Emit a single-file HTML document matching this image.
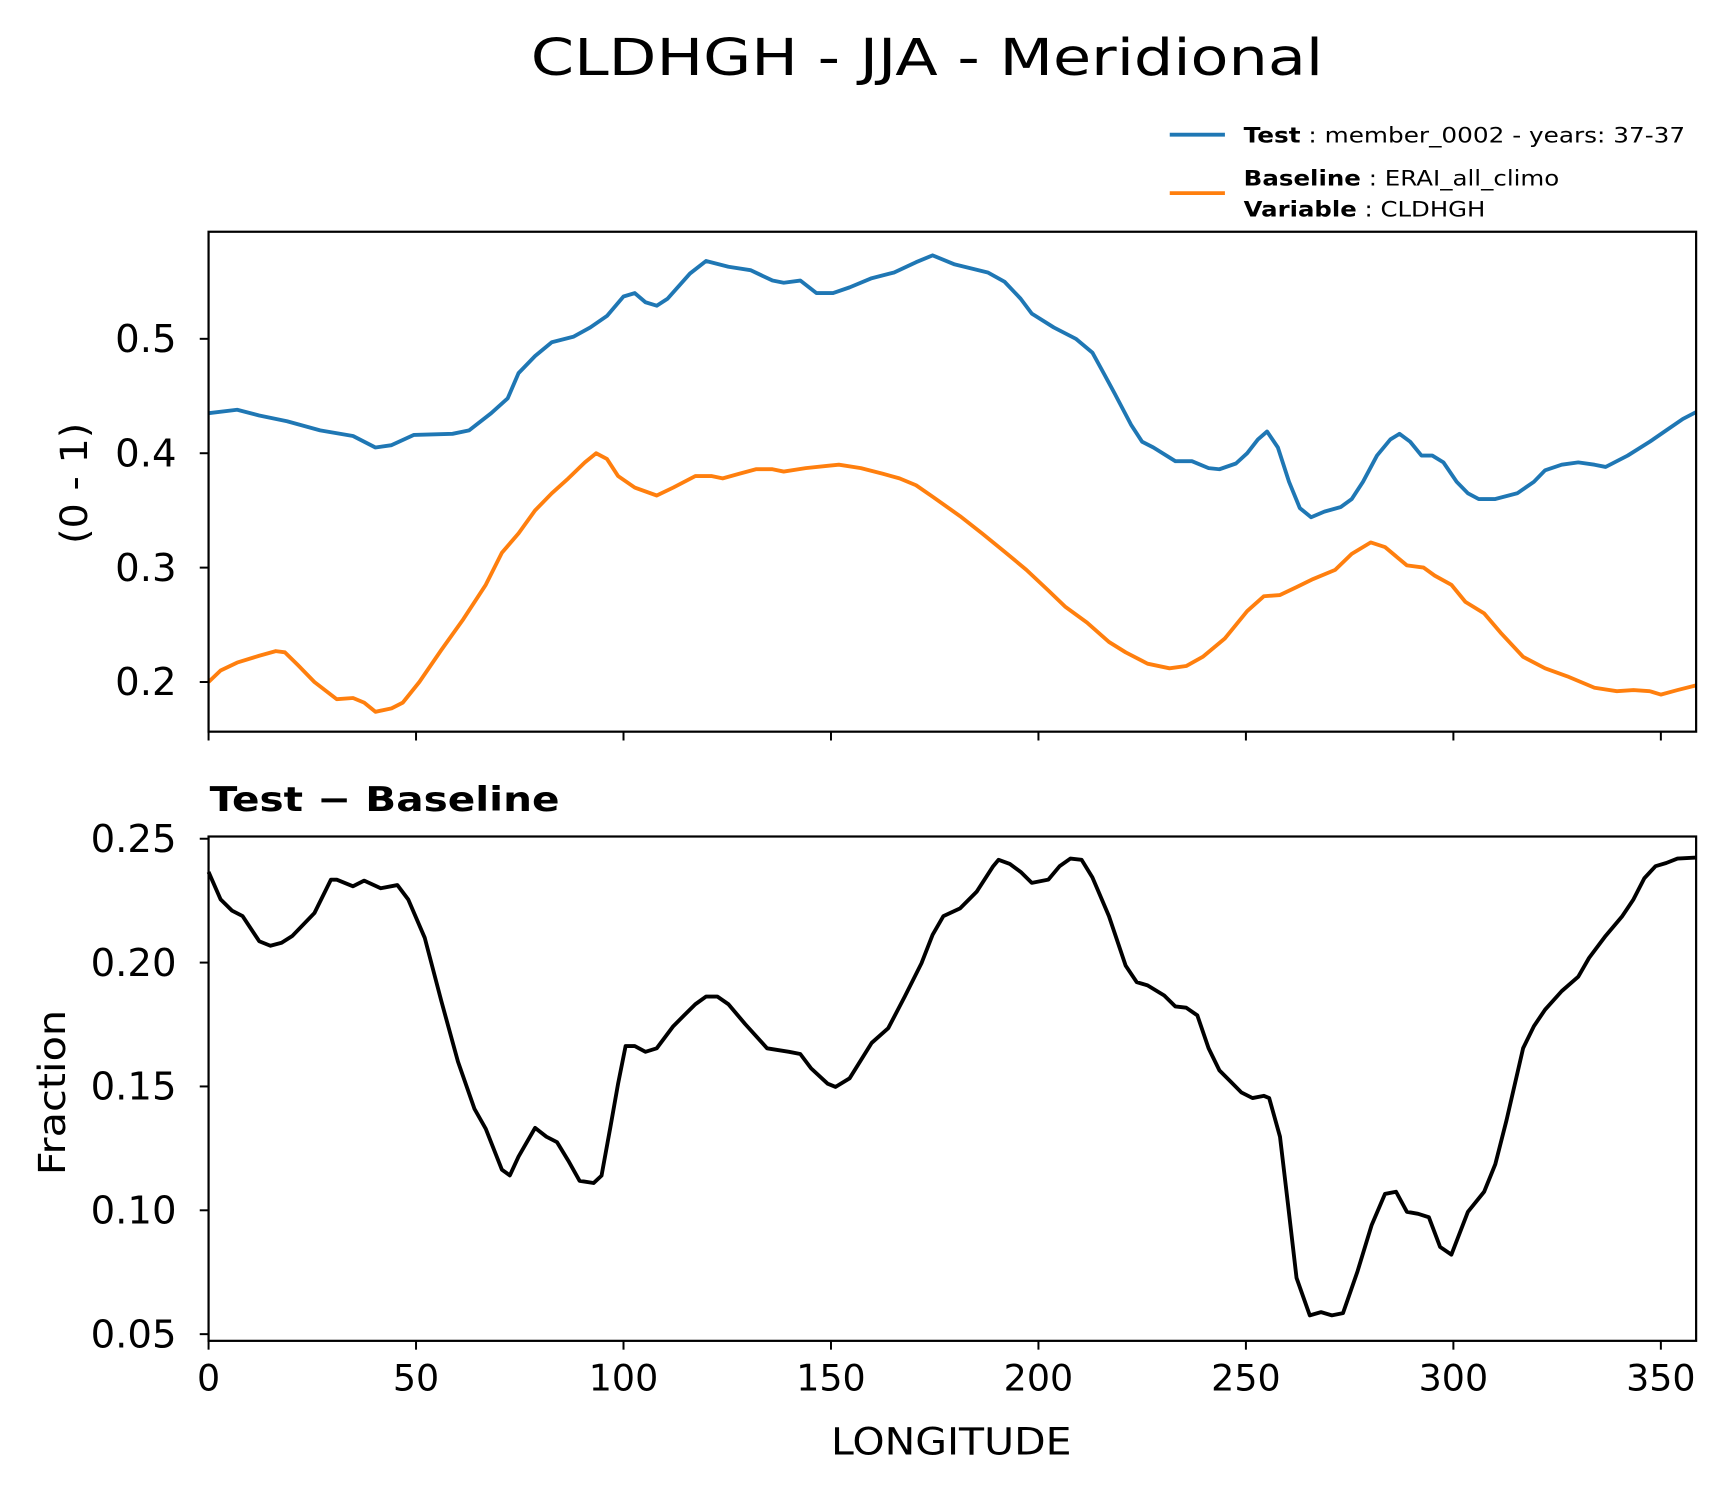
<!DOCTYPE html>
<html><head><meta charset="utf-8"><style>
html,body{margin:0;padding:0;background:#fff;}
svg{display:block;font-family:"DejaVu Sans","Liberation Sans",sans-serif;}
</style></head><body>
<svg id="chart" width="1731" height="1496" viewBox="0 0 1568.6 1355.6" preserveAspectRatio="none" xmlns="http://www.w3.org/2000/svg">
<rect width="1570" height="1360" fill="#fff"/>
<text x="840" y="68" font-size="46" text-anchor="middle" textLength="718" lengthAdjust="spacingAndGlyphs">CLDHGH - JJA - Meridional</text>
<g>
<line x1="1060" y1="122" x2="1110" y2="122" stroke="#1f77b4" stroke-width="3.5"/>
<text x="1127" y="129" font-size="19" textLength="400" lengthAdjust="spacingAndGlyphs"><tspan font-weight="bold">Test</tspan> : member_0002 - years: 37-37</text>
<line x1="1060" y1="175" x2="1110" y2="175" stroke="#ff7f0e" stroke-width="3.5"/>
<text x="1127" y="168" font-size="19" textLength="286" lengthAdjust="spacingAndGlyphs"><tspan font-weight="bold">Baseline</tspan> : ERAI_all_climo</text>
<text x="1127" y="196" font-size="19" textLength="219" lengthAdjust="spacingAndGlyphs"><tspan font-weight="bold">Variable</tspan> : CLDHGH</text>
</g>
<g id="topPanel"></g>
<g id="botPanel"></g>
<text x="190" y="735" font-size="31" font-weight="bold" textLength="317" lengthAdjust="spacingAndGlyphs">Test − Baseline</text>
<text x="862" y="1318" font-size="34" text-anchor="middle" textLength="218" lengthAdjust="spacingAndGlyphs">LONGITUDE</text>
<text transform="translate(79,438) rotate(-90)" font-size="34" text-anchor="middle" textLength="110" lengthAdjust="spacingAndGlyphs">(0 - 1)</text>
<text transform="translate(59,990) rotate(-90)" font-size="34" text-anchor="middle" textLength="150" lengthAdjust="spacingAndGlyphs">Fraction</text>
</svg>
<script>
const testLon=[0,6.9,12.2,18.9,26.9,34.8,40.2,44.1,49.5,58.8,62.8,68.1,72.1,74.7,78.7,82.7,88.0,92.0,96.0,100.0,102.7,105.3,108.0,110.6,116.0,119.9,125.3,130.6,135.9,138.6,142.6,146.5,150.5,154.5,159.8,165.2,170.5,174.5,179.8,187.8,191.8,195.7,198.4,203.7,209.0,213.0,215.7,218.4,222.3,225.0,227.7,233.0,237.0,241.0,243.6,247.6,250.3,252.9,255.1,257.7,260.4,263.0,265.7,268.9,272.9,275.5,278.2,281.6,284.8,287.0,289.6,292.3,294.9,297.6,300.8,303.5,306.1,310.1,315.4,319.4,322.1,326.1,330.1,334.0,336.7,342.0,347.3,351.3,355.3,358.5];
const testVal=[0.435,0.438,0.433,0.428,0.420,0.415,0.405,0.407,0.416,0.417,0.420,0.435,0.448,0.470,0.485,0.497,0.502,0.510,0.520,0.537,0.540,0.532,0.529,0.535,0.557,0.568,0.563,0.560,0.551,0.549,0.551,0.540,0.540,0.545,0.553,0.558,0.567,0.573,0.565,0.558,0.550,0.535,0.522,0.510,0.500,0.488,0.470,0.452,0.425,0.410,0.405,0.393,0.393,0.387,0.386,0.391,0.400,0.412,0.419,0.405,0.375,0.352,0.344,0.349,0.353,0.360,0.375,0.398,0.412,0.417,0.410,0.398,0.398,0.392,0.375,0.365,0.360,0.360,0.365,0.375,0.385,0.390,0.392,0.390,0.388,0.398,0.410,0.420,0.430,0.436];
const baseLon=[0,2.9,6.9,12.2,16.2,18.4,21.5,25.5,30.9,34.8,37.5,40.2,44.1,46.8,50.8,56.1,61.4,66.8,70.7,74.7,78.7,82.7,86.7,90.7,93.4,96.0,98.7,102.7,108.0,112.0,117.3,121.3,123.9,127.9,131.9,135.9,138.6,143.9,149.2,151.9,157.2,162.5,166.5,170.5,174.5,181.1,186.4,191.8,197.1,202.4,206.4,211.7,217.0,221.0,226.3,231.6,235.6,239.6,244.9,250.3,254.3,258.2,262.2,266.2,271.5,275.5,280.1,283.5,288.8,292.8,295.5,299.5,302.9,307.4,311.4,316.8,322.1,327.4,334.0,339.4,343.4,347.3,350.0,354.0,358.5];
const baseVal=[0.200,0.210,0.217,0.223,0.227,0.226,0.215,0.200,0.185,0.186,0.182,0.174,0.177,0.182,0.200,0.228,0.255,0.285,0.313,0.330,0.350,0.365,0.378,0.392,0.400,0.395,0.380,0.370,0.363,0.370,0.380,0.380,0.378,0.382,0.386,0.386,0.384,0.387,0.389,0.390,0.387,0.382,0.378,0.372,0.362,0.345,0.330,0.314,0.298,0.280,0.266,0.252,0.235,0.226,0.216,0.212,0.214,0.222,0.238,0.262,0.275,0.276,0.283,0.290,0.298,0.312,0.322,0.318,0.302,0.300,0.293,0.285,0.270,0.260,0.243,0.222,0.212,0.205,0.195,0.192,0.193,0.192,0.189,0.193,0.197];
const diffLon=[0,2.9,5.6,8.2,12.2,14.9,17.6,20.2,25.5,29.5,30.9,34.8,37.5,41.5,45.5,48.1,52.1,56.1,60.1,64.1,66.8,70.7,72.6,74.7,78.7,81.4,84.0,86.7,89.4,92.8,94.7,96.8,98.7,100.5,102.7,105.3,108.0,112.0,114.6,117.3,119.9,122.6,125.3,129.3,134.6,139.9,142.6,145.2,149.2,151.1,154.5,159.8,163.8,167.8,171.8,174.5,177.1,181.1,185.1,189.1,190.4,193.1,195.7,198.4,202.4,205.1,207.7,210.4,213.0,217.0,221.0,223.7,226.3,230.3,233.0,235.6,238.3,241.0,243.6,246.3,248.9,251.6,254.3,255.6,258.2,260.1,262.2,265.4,268.1,270.7,273.4,276.9,280.3,283.5,286.2,288.8,291.5,294.1,296.8,299.5,303.5,307.4,310.1,312.8,316.8,319.4,322.1,326.1,330.1,332.7,336.7,340.7,343.4,346.0,348.7,351.3,354.0,358.5];
const diffVal=[0.2366,0.2255,0.221,0.2188,0.2086,0.2068,0.208,0.2108,0.220,0.2335,0.2335,0.2308,0.2331,0.230,0.2313,0.2255,0.210,0.1845,0.160,0.1409,0.1329,0.1164,0.1141,0.1217,0.1333,0.1297,0.1275,0.120,0.1119,0.111,0.114,0.1333,0.1511,0.1663,0.1663,0.164,0.1654,0.1743,0.1787,0.1832,0.1863,0.1863,0.1832,0.1752,0.1654,0.164,0.1631,0.1573,0.1511,0.1498,0.1533,0.1676,0.1735,0.1863,0.1997,0.2112,0.2188,0.2219,0.2286,0.2389,0.2415,0.2398,0.2366,0.2322,0.2335,0.2389,0.242,0.2415,0.2344,0.2188,0.1988,0.1921,0.1908,0.1867,0.1823,0.1818,0.1787,0.1654,0.1565,0.152,0.1476,0.1453,0.1462,0.1453,0.1297,0.103,0.0727,0.0576,0.0589,0.0576,0.0585,0.0754,0.0941,0.1066,0.1075,0.0994,0.0986,0.0972,0.0852,0.0821,0.0994,0.1075,0.1186,0.1364,0.1654,0.1743,0.181,0.1885,0.1943,0.2019,0.2108,0.2188,0.2255,0.234,0.2389,0.2402,0.242,0.2424];
const xTicks=[0,50,100,150,200,250,300,350];
const topTicks=[0.2,0.3,0.4,0.5];
const topTickLabels=["0.2","0.3","0.4","0.5"];
const botTicks=[0.05,0.10,0.15,0.20,0.25];
const botTickLabels=["0.05","0.10","0.15","0.20","0.25"];

const NS="http://www.w3.org/2000/svg";
const L=189,R=1537;
const X0=0,X1=358.5;
const xs=v=>L+(v-X0)/(X1-X0)*(R-L);
const topT=210,topB=663,topMin=0.1566,topMax=0.5936;
const botT=758,botB=1215,botMin=0.0473,botMax=0.2509;
const ysTop=v=>topB-(v-topMin)/(topMax-topMin)*(topB-topT);
const ysBot=v=>botB-(v-botMin)/(botMax-botMin)*(botB-botT);
function mk(tag,attrs,parent){const e=document.createElementNS(NS,tag);for(const k in attrs)e.setAttribute(k,attrs[k]);parent.appendChild(e);return e;}
function path(lon,val,ys){return lon.map((x,i)=>(i?'L':'M')+xs(x).toFixed(1)+' '+ys(val[i]).toFixed(1)).join(' ');}

const topG=document.getElementById('topPanel'), botG=document.getElementById('botPanel');
let p=mk('path',{d:path(testLon,testVal,ysTop),fill:'none',stroke:'#1f77b4','stroke-width':3.5,'stroke-linejoin':'round'},topG);


p=mk('path',{d:path(baseLon,baseVal,ysTop),fill:'none',stroke:'#ff7f0e','stroke-width':3.5,'stroke-linejoin':'round'},topG);


p=mk('path',{d:path(diffLon,diffVal,ysBot),fill:'none',stroke:'#000','stroke-width':3.5,'stroke-linejoin':'round'},botG);



let f=mk('rect',{x:L,y:topT,width:R-L,height:topB-topT,fill:'none',stroke:'#000','stroke-width':2},topG);


f=mk('rect',{x:L,y:botT,width:R-L,height:botB-botT,fill:'none',stroke:'#000','stroke-width':2},botG);



xTicks.forEach(t=>{
  let a=mk('line',{x1:xs(t),x2:xs(t),y1:topB,y2:topB+8,stroke:'#000','stroke-width':1.8},topG);
  
  
  let b=mk('line',{x1:xs(t),x2:xs(t),y1:botB,y2:botB+8,stroke:'#000','stroke-width':1.8},botG);
  
  
  let tx=mk('text',{x:xs(t),y:botB+45,'font-size':33,'text-anchor':'middle'},botG);
  tx.textContent=String(t);
  
  
});
topTicks.forEach((t,i)=>{
  let a=mk('line',{x1:L-8,x2:L,y1:ysTop(t),y2:ysTop(t),stroke:'#000','stroke-width':1.8},topG);
  
  
  let tx=mk('text',{x:L-29,y:ysTop(t)+12,'font-size':35,'text-anchor':'end'},topG);
  tx.textContent=topTickLabels[i];
  
  
});
botTicks.forEach((t,i)=>{
  let a=mk('line',{x1:L-8,x2:L,y1:ysBot(t),y2:ysBot(t),stroke:'#000','stroke-width':1.8},botG);
  
  
  let tx=mk('text',{x:L-29,y:ysBot(t)+12,'font-size':35,'text-anchor':'end'},botG);
  tx.textContent=botTickLabels[i];
  
  
});
</script>
</body></html>
